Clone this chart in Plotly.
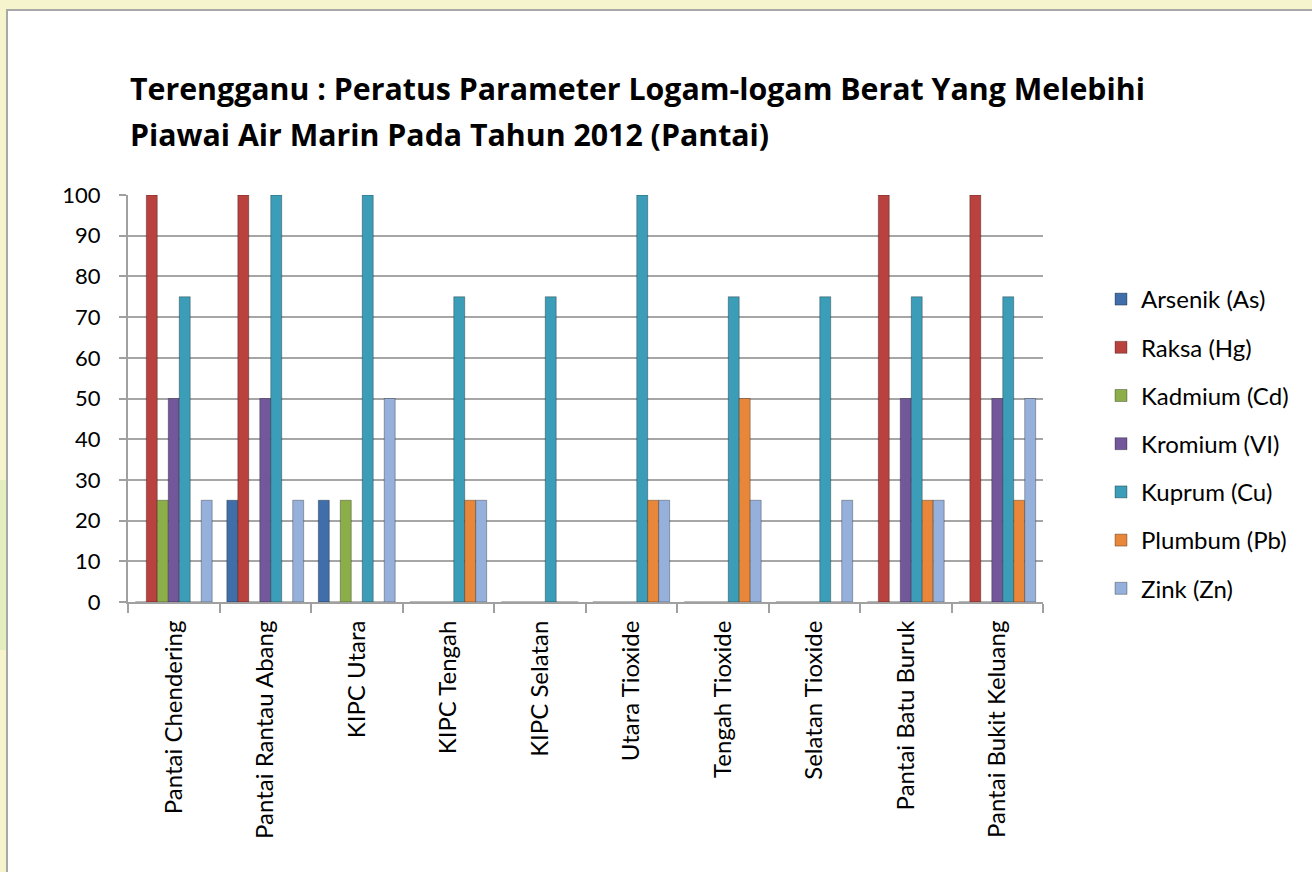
import plotly.graph_objects as go

categories = ["Pantai Chendering", "Pantai Rantau Abang", "KIPC Utara", "KIPC Tengah",
              "KIPC Selatan", "Utara Tioxide", "Tengah Tioxide", "Selatan Tioxide",
              "Pantai Batu Buruk", "Pantai Bukit Keluang"]
arsenik = [0, 25, 25, 0, 0, 0, 0, 0, 0, 0]
raksa = [100, 100, 0, 0, 0, 0, 0, 0, 100, 100]
kadmium = [25, 0, 25, 0, 0, 0, 0, 0, 0, 0]
kromium = [50, 50, 0, 0, 0, 0, 0, 0, 50, 50]
kuprum = [75, 100, 100, 75, 75, 100, 75, 75, 75, 75]
plumbum = [0, 0, 0, 25, 0, 25, 50, 0, 25, 25]
zink = [25, 25, 50, 25, 0, 25, 25, 25, 25, 50]
y_ticks = [0, 10, 20, 30, 40, 50, 60, 70, 80, 90, 100]
title_line1 = "Terengganu : Peratus Parameter Logam-logam Berat Yang Melebihi"
title_line2 = "Piawai Air Marin Pada Tahun 2012 (Pantai)"

series = [
    ("Arsenik (As)", arsenik, "#3F6EAB"),
    ("Raksa (Hg)", raksa, "#B9423F"),
    ("Kadmium (Cd)", kadmium, "#8BAE49"),
    ("Kromium (VI)", kromium, "#72589B"),
    ("Kuprum (Cu)", kuprum, "#3B9DB7"),
    ("Plumbum (Pb)", plumbum, "#E8873A"),
    ("Zink (Zn)", zink, "#95B0DB"),
]

fig = go.Figure()
for i, (name, vals, col) in enumerate(series):
    fig.add_trace(go.Bar(
        x=categories, y=vals, name=name, legendgroup=f"g{i}",
        marker=dict(color=col, line=dict(color="rgba(0,0,0,0.3)", width=1)),
    ))

W, H = 1312, 872
L, R, T, B = 128, W - 1043, 195, H - 602
pw, ph = W - L - R, H - T - B


def px(x):
    return (x - L) / pw


def py(y):
    return (H - B - y) / ph


# page panel
fig.add_shape(type="rect", xref="paper", yref="paper", layer="below",
              x0=px(0), x1=px(7), y0=py(650), y1=py(480),
              fillcolor="#E3EDBE", line=dict(width=0))
fig.add_shape(type="rect", xref="paper", yref="paper", layer="below",
              x0=px(7), x1=px(1330), y0=py(890), y1=py(10),
              fillcolor="white", line=dict(color="#A8A8A8", width=2))

title_font = dict(size=30.3, family="Open Sans, sans-serif", color="black", weight="bold")
fig.add_annotation(text=title_line1, xref="paper", yref="paper", x=px(128), y=py(89),
                   xanchor="left", yanchor="middle", showarrow=False, font=title_font)
fig.add_annotation(text=title_line2, xref="paper", yref="paper", x=px(128), y=py(134),
                   xanchor="left", yanchor="middle", showarrow=False, font=title_font)

fig.update_layout(
    width=W, height=H,
    margin=dict(l=L, r=R, t=T, b=B),
    paper_bgcolor="#F6F4CC",
    plot_bgcolor="white",
    font=dict(family="Lato, Open Sans, sans-serif", size=22, color="black"),
    barmode="group", bargap=0.16, bargroupgap=0.0,
    showlegend=True,
    legend=dict(x=px(1101), xanchor="left", y=py(277), yanchor="top",
                font=dict(size=24), tracegroupgap=14, bgcolor="rgba(0,0,0,0)"),
    xaxis=dict(tickangle=-90, showline=True, linecolor="#A0A0A0", linewidth=2,
               ticks="outside", ticklen=9, tickcolor="#A0A0A0", tickwidth=2,
               tickson="boundaries", showgrid=False, ticklabelstandoff=7,
               tickfont=dict(size=24)),
    yaxis=dict(range=[0, 100], tickvals=y_ticks, showline=True, linecolor="#A0A0A0",
               linewidth=2, ticks="outside", ticklen=7, tickcolor="#A0A0A0", tickwidth=2,
               showgrid=True, gridcolor="#A6A6A6", gridwidth=2, zeroline=False,
               ticklabelstandoff=14, tickfont=dict(size=22)),
)

fig.write_html("out.html", config={"displayModeBar": False},
               post_script="document.body.style.margin='0';")
